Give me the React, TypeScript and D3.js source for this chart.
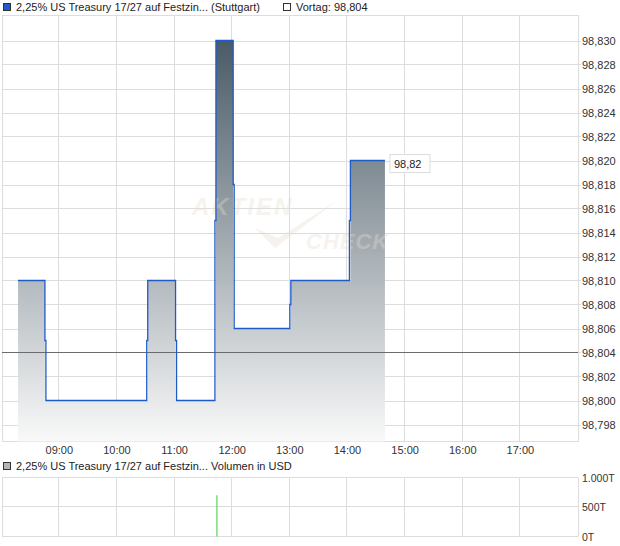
import React from "react";
import * as d3 from "d3";

const priceTimes = ["08:17", "08:45", "10:31", "11:01", "11:42", "12:01", "13:00", "14:02", "14:39"];
const priceValues = [98.81, 98.8, 98.81, 98.8, 98.83, 98.806, 98.81, 98.82, 98.82];
const previousClose = 98.804;
const yTicks = [98.798, 98.8, 98.802, 98.804, 98.806, 98.808, 98.81, 98.812, 98.814, 98.816, 98.818, 98.82, 98.822, 98.824, 98.826, 98.828, 98.83];
const xTickHours = [9, 10, 11, 12, 13, 14, 15, 16, 17];
const volumeTimes = ["11:43"];
const volumeValues = [700];
const volumeTicks = [0, 500, 1000];
const volumeTickLabels = ["0T", "500T", "1.000T"];

const toHours = (s: string) => {
  const [h, m] = s.split(":").map(Number);
  return h + m / 60;
};

const FONT = "'Liberation Sans', Arial, sans-serif";

export default function App() {
  const W = 620, H = 546;
  const left = 2, right = 578;
  const top = 16, bottom = 441.5;
  const vTop = 477.5, vBottom = 536.5;

  const x = d3.scaleLinear().domain([8, 18]).range([1.7, 578]);
  const y = d3.scaleLinear().domain([98.798, 98.83]).range([424.5, 40.5]);
  const yv = d3.scaleLinear().domain([0, 1000]).range([vBottom, vTop]);

  const pts = priceTimes.map((t, i) => ({ x: x(toHours(t)), v: priceValues[i] }));

  const lp = d3.path();
  lp.moveTo(pts[0].x, y(pts[0].v));
  const areaPts: [number, number][] = [[pts[0].x, y(pts[0].v)]];
  for (let i = 1; i < pts.length; i++) {
    const prev = pts[i - 1].v, cur = pts[i].v;
    const xi = pts[i].x;
    lp.lineTo(xi, y(prev));
    if (cur !== prev) {
      const mid = (prev + cur) / 2;
      lp.lineTo(xi, y(mid));
      lp.lineTo(xi + 1, y(mid));
      lp.lineTo(xi + 1, y(cur));
      const xe = cur > prev ? xi + 1 : xi;
      areaPts.push([xe, y(prev)]);
      areaPts.push([xe, y(cur)]);
    } else {
      areaPts.push([xi, y(cur)]);
    }
  }
  const area = d3.area<[number, number]>().x(d => d[0]).y0(bottom).y1(d => d[1])(areaPts) || "";
  const maxV = d3.max(priceValues) as number;
  const last = pts[pts.length - 1];

  const gridColor = "#dddddd";

  return (
    <svg width={W} height={H} style={{ position: "absolute", left: 0, top: 0, background: "#fff" }} fontFamily={FONT}>
      <defs>
        <linearGradient id="fillGrad" gradientUnits="userSpaceOnUse" x1={0} x2={0} y1={y(maxV)} y2={bottom}>
          <stop offset="0" stopColor="#4a5b67" />
          <stop offset="1" stopColor="#f9f9f9" />
        </linearGradient>
      </defs>

      <rect x={3.5} y={3.5} width={7} height={7} fill="#1f5bc8" stroke="#333" strokeWidth={1} />
      <text x={16} y={11} fontSize={11} fill="#222">2,25% US Treasury 17/27 auf Festzin... (Stuttgart)</text>
      <rect x={283.5} y={3.5} width={7} height={7} fill="#fff" stroke="#333" strokeWidth={1} />
      <text x={296} y={11} fontSize={11} fill="#222">Vortag: 98,804</text>

      {yTicks.map(t => (
        <line key={"hy" + t} x1={left} x2={right + 3} y1={Math.round(y(t)) + 0.5} y2={Math.round(y(t)) + 0.5} stroke={gridColor} />
      ))}
      {xTickHours.map(h => (
        <line key={"vx" + h} x1={Math.round(x(h)) - 0.5} x2={Math.round(x(h)) - 0.5} y1={top} y2={bottom} stroke={gridColor} />
      ))}
      <rect x={left + 0.5} y={top - 0.5} width={right - left} height={bottom - top + 0.5} fill="none" stroke={gridColor} />

      <path d={area} fill="url(#fillGrad)" />
      <g opacity={0.35} fontStyle="italic" fontWeight="bold" fill="#e6ddd4">
        <text x={192} y={215} fontSize={24} letterSpacing={2}>AKTIEN</text>
        <text x={306} y={249} fontSize={22} letterSpacing={1}>CHECK</text>
        <path d="M255,228 L275,248 L338,200 L278,238 Z" />
      </g>
      <line x1={left} x2={right} y1={Math.round(y(previousClose)) + 0.5} y2={Math.round(y(previousClose)) + 0.5} stroke="#6b6b6b" strokeWidth={1} />
      <path d={lp.toString()} fill="none" stroke="#1e5bc8" strokeWidth={1.3} />

      <rect x={last.x + 5} y={y(last.v) - 6} width={40} height={18} fill="#fff" stroke="#dcdcdc" />
      <text x={last.x + 9} y={y(last.v) + 7} fontSize={11} fill="#222">{d3.format(".2f")(last.v).replace(".", ",")}</text>

      {yTicks.map(t => (
        <text key={"yl" + t} x={582} y={y(t) + 4} fontSize={11} fill="#333">{d3.format(".3f")(t).replace(".", ",")}</text>
      ))}
      {xTickHours.map(h => (
        <text key={"xl" + h} x={x(h)} y={454} fontSize={11} fill="#333" textAnchor="middle">{String(h).padStart(2, "0") + ":00"}</text>
      ))}

      <rect x={3.5} y={462.5} width={7} height={7} fill="#b4b4b4" stroke="#333" strokeWidth={1} />
      <text x={16} y={470} fontSize={11} fill="#222">2,25% US Treasury 17/27 auf Festzin... Volumen in USD</text>

      {volumeTicks.map(t => (
        <line key={"vy" + t} x1={left} x2={right} y1={Math.round(yv(t)) - 0.5} y2={Math.round(yv(t)) - 0.5} stroke={gridColor} />
      ))}
      {xTickHours.map(h => (
        <line key={"vvx" + h} x1={Math.round(x(h)) - 0.5} x2={Math.round(x(h)) - 0.5} y1={vTop} y2={vBottom} stroke={gridColor} />
      ))}
      <line x1={left + 0.5} x2={left + 0.5} y1={vTop} y2={vBottom} stroke={gridColor} />
      <line x1={right + 0.5} x2={right + 0.5} y1={vTop} y2={vBottom} stroke={gridColor} />
      {volumeTimes.map((t, i) => (
        <line key={"vb" + t} x1={x(toHours(t)) + 1} x2={x(toHours(t)) + 1} y1={yv(volumeValues[i])} y2={yv(0)} stroke="#5cd65c" strokeWidth={1.2} />
      ))}
      {volumeTicks.map((t, i) => (
        <text key={"vl" + t} x={582} y={yv(t) + 4} fontSize={10.5} fill="#333">{volumeTickLabels[i]}</text>
      ))}
    </svg>
  );
}
